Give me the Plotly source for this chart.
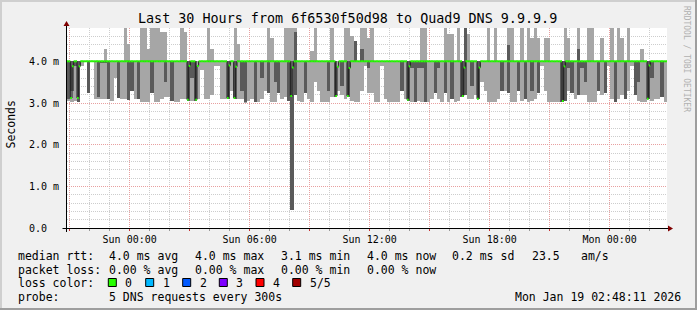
import numpy as np
import pandas as pd
import plotly.graph_objects as go

# ---------------- data ----------------
START = "2026-01-17 20:52:00"          # left edge of the 30 h window
COL_STEP_S = 600                        # smoke columns (10 min)
MED_STEP_S = 300                        # probe step (300 s)

# smoke: lowest ping, lower inner ping, upper inner ping, highest ping (ms)
smoke_lo = [
    3.05, 3.02, 3.05, 3.02, 3.9, 4.0, 3.25, 4.0, 3.1, 3.1,
    3.1, 3.1, 3.1, 3.05, 3.6, 3.12, 3.1, 3.1, 3.08, 3.3,
    3.1, 3.1, 3.02, 3.02, 3.02, 3.25, 3.02, 3.02, 3.1, 3.15,
    3.15, 3.05, 3.02, 3.02, 3.1, 3.1, 3.05, 3.05, 3.05, 3.1,
    3.8, 3.1, 3.1, 3.2, 3.9, 3.9, 3.1, 3.1, 3.1, 3.3,
    3.1, 3.1, 3.1, 3.0, 3.05, 3.1, 3.02, 3.02, 3.1, 3.3,
    3.25, 3.02, 3.02, 3.25, 3.1, 3.15, 3.05, 0.44, 3.2, 3.05,
    3.02, 3.25, 3.1, 3.02, 3.5, 3.3, 3.02, 3.02, 3.02, 3.15,
    3.15, 3.3, 3.2, 3.1, 3.15, 3.05, 3.02, 3.02, 3.3, 3.9,
    3.25, 3.25, 3.02, 3.02, 3.9, 3.1, 3.02, 3.02, 3.02, 3.02,
    3.3, 3.1, 3.05, 3.02, 3.02, 3.05, 3.02, 3.02, 3.02, 3.1,
    3.25, 3.1, 3.02, 3.25, 3.02, 3.1, 3.02, 3.05, 3.15, 3.2,
    3.1, 3.1, 3.2, 3.1, 3.5, 3.3, 3.02, 3.02, 3.02, 3.1,
    3.3, 3.3, 3.25, 3.02, 3.02, 3.3, 3.05, 3.1, 3.02, 3.05,
    3.1, 3.25, 3.9, 3.3, 3.02, 3.02, 3.02, 3.02, 3.02, 3.05,
    3.3, 3.25, 3.1, 3.2, 3.2, 3.2, 3.02, 3.02, 3.02, 3.3,
    3.2, 3.25, 3.9, 3.1, 3.02, 3.1, 3.2, 3.1, 3.3, 3.9,
    3.2, 3.05, 3.02, 3.02, 3.1, 3.05, 3.1, 3.1, 3.15, 3.02,
]
smoke_p2 = [
    3.1, 3.3, 3.9, 3.02, 4.0, 4.0, 3.25, 4.0, 4.0, 3.15,
    3.95, 3.95, 3.1, 4.0, 4.0, 3.12, 4.0, 4.0, 3.08, 3.3,
    4.0, 3.1, 4.0, 4.0, 4.0, 3.25, 4.0, 4.0, 4.0, 3.5,
    4.0, 3.05, 4.0, 4.0, 4.0, 4.0, 3.05, 3.6, 3.05, 4.0,
    4.0, 4.0, 4.0, 4.0, 4.0, 4.0, 4.0, 4.0, 3.1, 4.0,
    3.1, 4.0, 3.3, 3.02, 4.0, 4.0, 3.02, 4.0, 3.6, 4.0,
    3.25, 4.0, 3.5, 3.25, 4.0, 4.0, 3.05, 0.44, 3.2, 4.0,
    4.0, 3.25, 4.0, 4.0, 4.0, 4.0, 4.0, 4.0, 3.3, 4.0,
    3.15, 4.0, 3.4, 4.0, 3.15, 4.0, 4.0, 4.0, 4.0, 4.0,
    3.85, 4.0, 4.0, 4.0, 4.0, 4.0, 4.0, 4.0, 4.0, 4.0,
    3.3, 4.0, 3.05, 3.85, 3.02, 3.85, 3.85, 3.02, 4.0, 4.0,
    3.25, 3.85, 4.0, 3.25, 4.0, 3.1, 4.0, 4.0, 3.15, 3.2,
    4.0, 3.4, 4.0, 3.1, 4.0, 4.0, 4.0, 4.0, 4.0, 4.0,
    3.3, 4.0, 3.25, 4.0, 4.0, 3.3, 4.0, 3.1, 4.0, 3.3,
    4.0, 3.25, 4.0, 4.0, 4.0, 4.0, 4.0, 4.0, 3.02, 3.05,
    3.85, 3.25, 4.0, 3.2, 3.85, 3.5, 4.0, 4.0, 4.0, 3.3,
    4.0, 3.25, 4.0, 4.0, 3.02, 4.0, 4.0, 3.1, 4.0, 4.0,
    3.2, 3.5, 4.0, 4.0, 3.1, 3.6, 4.0, 4.0, 3.15, 4.0,
]
smoke_p4 = [
    4.0, 4.0, 4.0, 4.0, 4.0, 4.0, 4.0, 4.0, 4.0, 4.0,
    4.0, 4.0, 4.0, 4.0, 4.0, 4.0, 4.0, 4.0, 4.0, 4.0,
    4.0, 4.0, 4.0, 4.0, 4.0, 4.0, 4.0, 4.0, 4.0, 4.0,
    4.0, 4.0, 4.0, 4.0, 4.0, 4.0, 4.0, 4.0, 4.0, 4.0,
    4.0, 4.0, 4.0, 4.0, 4.0, 4.0, 4.0, 4.0, 4.0, 4.0,
    4.0, 4.0, 4.0, 4.0, 4.0, 4.0, 4.0, 4.0, 4.0, 4.0,
    4.0, 4.0, 4.0, 4.0, 4.0, 4.0, 4.0, 4.0, 4.7, 4.0,
    4.0, 4.0, 4.0, 4.0, 4.0, 4.0, 4.0, 4.0, 4.0, 4.0,
    4.0, 4.0, 4.0, 4.0, 4.0, 4.0, 4.5, 4.0, 4.3, 4.0,
    4.0, 4.0, 4.0, 4.0, 4.0, 4.0, 4.0, 4.0, 4.0, 4.0,
    4.0, 4.0, 4.0, 4.0, 4.0, 4.0, 4.0, 4.0, 4.0, 4.0,
    4.0, 4.0, 4.0, 4.0, 4.0, 4.0, 4.0, 4.0, 4.0, 4.8,
    4.0, 4.0, 4.0, 4.0, 4.0, 4.0, 4.0, 4.0, 4.0, 4.0,
    4.0, 4.0, 4.4, 4.0, 4.0, 4.0, 4.0, 4.0, 4.0, 4.0,
    4.0, 4.0, 4.0, 4.0, 4.0, 4.0, 4.0, 4.0, 4.0, 4.0,
    4.0, 4.0, 4.0, 4.3, 4.0, 4.0, 4.0, 4.0, 4.0, 4.0,
    4.0, 4.0, 4.0, 4.0, 4.0, 4.0, 4.0, 4.0, 4.0, 4.0,
    4.0, 4.0, 4.0, 4.0, 4.0, 4.0, 4.0, 4.0, 4.0, 4.0,
]
smoke_hi = [
    4.0, 4.0, 4.0, 4.0, 4.0, 4.0, 4.0, 4.0, 4.0, 4.0,
    4.0, 4.3, 4.0, 4.0, 4.0, 4.0, 4.0, 5.0, 4.42, 4.0,
    4.0, 4.0, 5.0, 5.0, 4.3, 5.0, 5.0, 5.0, 4.7, 4.7,
    4.0, 4.0, 4.0, 4.0, 5.0, 4.7, 4.0, 4.0, 4.0, 4.0,
    4.0, 4.0, 5.0, 4.3, 4.0, 4.0, 4.0, 4.0, 4.0, 4.0,
    5.0, 4.42, 4.0, 4.0, 4.0, 4.0, 4.0, 4.0, 4.0, 4.0,
    5.0, 4.56, 4.0, 4.0, 4.0, 5.0, 5.0, 5.0, 5.0, 4.0,
    4.0, 4.0, 4.0, 4.26, 5.0, 4.0, 4.0, 4.0, 4.0, 5.0,
    4.0, 4.0, 4.0, 5.0, 5.0, 4.6, 4.5, 4.0, 5.0, 5.0,
    4.56, 5.0, 4.0, 4.0, 4.0, 4.0, 4.0, 4.0, 4.0, 4.0,
    4.0, 4.0, 4.0, 4.0, 4.0, 4.0, 5.0, 5.0, 4.0, 4.0,
    4.0, 4.0, 4.0, 5.0, 4.65, 4.65, 4.0, 5.0, 4.0, 5.0,
    4.65, 4.0, 4.0, 4.0, 4.0, 4.0, 5.0, 4.0, 5.0, 4.0,
    4.0, 4.0, 5.0, 5.0, 4.0, 4.0, 5.0, 4.0, 5.0, 4.56,
    5.0, 4.56, 4.0, 4.56, 4.56, 4.0, 4.0, 4.0, 4.0, 5.0,
    4.56, 4.0, 4.0, 5.0, 4.0, 4.0, 5.0, 5.0, 4.0, 4.0,
    4.56, 4.0, 4.0, 5.0, 4.0, 5.0, 4.56, 4.0, 5.0, 4.0,
    4.0, 4.0, 4.3, 4.0, 4.0, 4.0, 4.0, 4.0, 4.0, 4.0,
]

# median rtt (300 s steps): 4.0 ms except the dips listed here
median_base = 4.0
dip_step = [2, 6, 72, 77, 96, 100, 134, 161, 168, 204, 237, 246, 297, 348]
dip_rtt = [3.12, 3.12, 3.08, 3.08, 3.12, 3.12, 3.17, 3.17, 3.17, 3.08, 3.17, 3.1, 3.05, 3.1]
after_dip_rtt = [3.88, 3.88, 3.89, 3.89, 3.9, 3.87, 3.85, 3.87, 3.84, 3.88, 3.85, 3.85, 3.88, 3.9]

y_tickvals = [0, 1, 2, 3, 4]
y_ticktext = ["0.0\u00a0\u00a0", "1.0 m", "2.0 m", "3.0 m", "4.0 m"]

loss_labels = ["0", "1", "2", "3", "4", "5/5"]
loss_colors = ["#26ff00", "#00b8ff", "#0059ff", "#7e00ff", "#ff0000", "#a10000"]

# ---------------- figure ----------------
FONT = "DejaVu Sans Mono"
LIGHT = "#a6a6a6"
DARK = "#5a5a5a"
W, H = 697, 310
L, T, PW, PH = 67, 28, 600, 200

start = pd.Timestamp(START)
end = start + pd.Timedelta(hours=30)
n_col = len(smoke_lo)
col_x = start + pd.to_timedelta(np.arange(n_col) * COL_STEP_S + COL_STEP_S / 2, unit="s")

lo = np.array(smoke_lo); p2 = np.array(smoke_p2); p4 = np.array(smoke_p4); hi = np.array(smoke_hi)

n_med = int(30 * 3600 / MED_STEP_S)
median = np.full(n_med, median_base)
for s, v, a in zip(dip_step, dip_rtt, after_dip_rtt):
    median[s] = v
    median[s + 1] = a
med_x = start + pd.to_timedelta(np.arange(n_med + 1) * MED_STEP_S, unit="s")
med_y = np.append(median, median[-1])

fig = go.Figure()
fig.add_trace(go.Bar(x=col_x, base=lo, y=hi - lo, width=COL_STEP_S * 1000,
                     marker=dict(color=LIGHT, line=dict(width=0)), hoverinfo="skip"))
fig.add_trace(go.Bar(x=col_x, base=p2, y=p4 - p2, width=COL_STEP_S * 1000,
                     marker=dict(color=DARK, line=dict(width=0)), hoverinfo="skip"))
fig.add_trace(go.Scatter(x=med_x, y=med_y, mode="lines",
                         line=dict(shape="hv", color="#1e1e1e", width=1), hoverinfo="skip"))
gx, gy = [], []
for i in range(n_med):
    gx += [med_x[i], med_x[i + 1], None]
    gy += [median[i], median[i], None]
fig.add_trace(go.Scatter(x=gx, y=gy, mode="lines", line=dict(color=loss_colors[0], width=2),
                         hoverinfo="skip"))

# x ticks every 3 h, labels every 6 h
tick_t = pd.date_range("2026-01-17 21:00", end, freq="3h")
tick_txt = [t.strftime("%a %H:%M") if t.hour % 6 == 0 else "" for t in tick_t]

RED_GRID = "#e8a0a0"
GRAY_GRID = "#cdcdcd"
fig.update_layout(
    width=W, height=H, margin=dict(l=L, r=W - L - PW, t=T, b=H - T - PH),
    paper_bgcolor="#f0f0f0", plot_bgcolor="#ffffff",
    barmode="overlay", bargap=0, showlegend=False,
    font=dict(family=FONT, size=10, color="#000"),
    xaxis=dict(type="date", range=[start, end], tickvals=tick_t, ticktext=tick_txt,
               showgrid=True, gridcolor=RED_GRID, griddash="1px,1px", gridwidth=1,
               ticks="outside", ticklen=2, tickcolor="#c83232", zeroline=False, showline=False,
               tickfont=dict(family=FONT, size=10), ticklabelstandoff=0,
               minor=dict(dtick=3600000, tick0="2026-01-17 21:00", showgrid=True,
                          gridcolor=GRAY_GRID, griddash="1px,1px", ticks="outside",
                          ticklen=2, tickcolor="#999")),
    yaxis=dict(range=[0, 4.8], tickvals=y_tickvals, ticktext=y_ticktext,
               showgrid=True, gridcolor=RED_GRID, griddash="1px,1px", ticks="",
               zeroline=False, showline=False, tickfont=dict(family=FONT, size=10),
               ticklabelstandoff=7,
               minor=dict(dtick=0.2, showgrid=True, gridcolor=GRAY_GRID, griddash="1px,1px")),
)

def fx(px):
    return (px - L) / PW

def fy(py):
    return (T + PH - py) / PH

shapes = []
# frame shading
shapes.append(dict(type="rect", xref="paper", yref="paper", x0=fx(0), x1=fx(W), y0=fy(0), y1=fy(2),
                   fillcolor="#cfcfcf", line=dict(width=0), layer="below"))
shapes.append(dict(type="rect", xref="paper", yref="paper", x0=fx(0), x1=fx(2), y0=fy(0), y1=fy(H),
                   fillcolor="#cfcfcf", line=dict(width=0), layer="below"))
shapes.append(dict(type="rect", xref="paper", yref="paper", x0=fx(0), x1=fx(W), y0=fy(H - 2), y1=fy(H),
                   fillcolor="#9e9e9e", line=dict(width=0), layer="below"))
shapes.append(dict(type="rect", xref="paper", yref="paper", x0=fx(W - 2), x1=fx(W), y0=fy(0), y1=fy(H),
                   fillcolor="#9e9e9e", line=dict(width=0), layer="below"))
# axes with arrows
shapes.append(dict(type="line", xref="paper", yref="paper", x0=fx(62.5), x1=fx(669), y0=fy(228.5), y1=fy(228.5),
                   line=dict(color="#000", width=1)))
shapes.append(dict(type="line", xref="paper", yref="paper", x0=fx(66.5), x1=fx(66.5), y0=fy(232), y1=fy(25),
                   line=dict(color="#000", width=1)))
shapes.append(dict(type="path", xref="paper", yref="paper",
                   path=f"M {fx(668)} {fy(225.5)} L {fx(673)} {fy(228.5)} L {fx(668)} {fy(231.5)} Z",
                   fillcolor="#800000", line=dict(color="#800000", width=0)))
shapes.append(dict(type="path", xref="paper", yref="paper",
                   path=f"M {fx(63.5)} {fy(26)} L {fx(66.5)} {fy(21)} L {fx(69.5)} {fy(26)} Z",
                   fillcolor="#800000", line=dict(color="#800000", width=0)))
# loss colour boxes
box_x = [108.3, 145.7, 182.7, 219.3, 256, 292.7]
for bx, c in zip(box_x, loss_colors):
    shapes.append(dict(type="rect", xref="paper", yref="paper", x0=fx(bx), x1=fx(bx + 8), y0=fy(278.5),
                       y1=fy(286.5), fillcolor=c, line=dict(color="#000", width=1)))
fig.update_layout(shapes=shapes)

ann = []
def text(px, py, s, size=11.5, anchor="left", color="#000", angle=0):
    ann.append(dict(xref="paper", yref="paper", x=fx(px), y=fy(py), text=s, showarrow=False,
                    xanchor=anchor, yanchor="middle", textangle=angle,
                    font=dict(family=FONT, size=size, color=color)))

text(347, 18.5, "Last 30 Hours from 6f6530f50d98 to Quad9 DNS 9.9.9.9", size=13.4, anchor="center")
text(10.5, 125, "Seconds", size=11.5, anchor="center", angle=-90)
text(687, 59, "RRDTOOL / TOBI OETIKER", size=8, anchor="center", color="#b0b0b0", angle=90)

r1, r2, r3, r4 = 255.5, 269.5, 283, 297
text(16, r1, "median rtt:")
for px, s in zip([107.3, 193.3, 279.3, 365, 450, 530, 579.3],
                 ["4.0 ms avg", "4.0 ms max", "3.1 ms min", "4.0 ms now", "0.2 ms sd", "23.5", "am/s"]):
    text(px, r1, s)
text(16, r2, "packet loss:")
for px, s in zip([107.3, 193.3, 279.3, 365], ["0.00 % avg", "0.00 % max", "0.00 % min", "0.00 % now"]):
    text(px, r2, s)
text(16, r3, "loss color:")
for bx, s in zip(box_x, loss_labels):
    text(bx + 15, r3, s)
text(16, r4, "probe:")
text(107.3, r4, "5 DNS requests every 300s")
text(512.7, r4, "Mon Jan 19 02:48:11 2026")
fig.update_layout(annotations=ann)

fig.write_html("out.html")
